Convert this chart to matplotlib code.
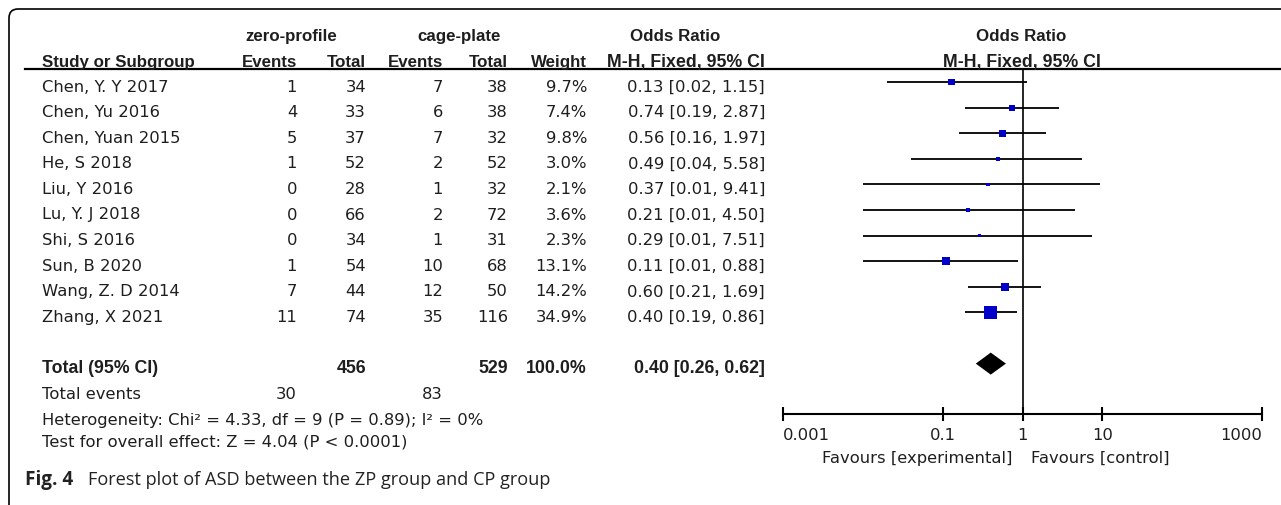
import matplotlib.pyplot as plt
import numpy as np
from matplotlib.patches import FancyBboxPatch

# dados do forest plot
estudos = ['Chen, Y. Y 2017', 'Chen, Yu 2016', 'Chen, Yuan 2015', 'He, S 2018', 'Liu, Y 2016',
           'Lu, Y. J 2018', 'Shi, S 2016', 'Sun, B 2020', 'Wang, Z. D 2014', 'Zhang, X 2021']
zp_eventos = [1, 4, 5, 1, 0, 0, 0, 1, 7, 11]
zp_total = [34, 33, 37, 52, 28, 66, 34, 54, 44, 74]
cp_eventos = [7, 6, 7, 2, 1, 2, 1, 10, 12, 35]
cp_total = [38, 38, 32, 52, 32, 72, 31, 68, 50, 116]
pesos = [9.7, 7.4, 9.8, 3.0, 2.1, 3.6, 2.3, 13.1, 14.2, 34.9]
odds = [0.13, 0.74, 0.56, 0.49, 0.37, 0.21, 0.29, 0.11, 0.60, 0.40]
ic_inf = [0.02, 0.19, 0.16, 0.04, 0.01, 0.01, 0.01, 0.01, 0.21, 0.19]
ic_sup = [1.15, 2.87, 1.97, 5.58, 9.41, 4.50, 7.51, 0.88, 1.69, 0.86]

total_zp, total_cp = 456, 529
eventos_zp, eventos_cp = 30, 83
or_total, inf_total, sup_total = 0.40, 0.26, 0.62

ticks = [0.001, 0.1, 1, 10, 1000]
tick_labels = ['0.001', '0.1', '1', '10', '1000']

W, H = 1281, 506
fig = plt.figure(figsize=(W / 100, H / 100), dpi=100)

# eixo da tabela em pixels
tab = fig.add_axes([0, 0, 1, 1])
tab.set_xlim(0, W)
tab.set_ylim(H, 0)
tab.axis('off')

Y0, DY = 83, 25.6   # linha 0 e espaçamento em pixels
OFF = 4             # deslocamento do texto em relação às marcas
cor = '#1e1e1e'
fonte = 'DejaVu Sans'
fonte_neg = 'Liberation Sans'
tam = 11.8


def y_linha(i):
    return Y0 + DY * i + OFF


def txt(x, y, s, ha='left', bold=False, size=None, **kw):
    if bold:
        tab.text(x, y, s, ha=ha, va='center', fontsize=size or 12.8, family=fonte_neg,
                 fontweight='bold', color=cor, **kw)
    else:
        tab.text(x, y, s, ha=ha, va='center', fontsize=size or tam, family=fonte,
                 color=cor, **kw)


# cabeçalho
hb = 12.2
txt(291, 36, 'zero-profile', ha='center', bold=True, size=hb)
txt(459, 36, 'cage-plate', ha='center', bold=True, size=hb)
txt(675, 36, 'Odds Ratio', ha='center', bold=True, size=hb)
txt(1021, 36, 'Odds Ratio', ha='center', bold=True, size=hb)
txt(42, 62, 'Study or Subgroup', bold=True, size=hb)
txt(297, 62, 'Events', ha='right', bold=True, size=hb)
txt(366, 62, 'Total', ha='right', bold=True, size=hb)
txt(443, 62, 'Events', ha='right', bold=True, size=hb)
txt(508, 62, 'Total', ha='right', bold=True, size=hb)
txt(587, 62, 'Weight', ha='right', bold=True, size=hb)
txt(765, 62, 'M-H, Fixed, 95% CI', ha='right', bold=True, size=12.8)
txt(1022, 62, 'M-H, Fixed, 95% CI', ha='center', bold=True, size=12.8)
tab.plot([25, W], [70, 70], color='black', lw=1.6)

for i, nome in enumerate(estudos):
    y = y_linha(i)
    txt(42, y, nome)
    txt(297, y, str(zp_eventos[i]), ha='right')
    txt(366, y, str(zp_total[i]), ha='right')
    txt(443, y, str(cp_eventos[i]), ha='right')
    txt(508, y, str(cp_total[i]), ha='right')
    txt(587, y, f'{pesos[i]:.1f}%', ha='right')
    txt(765, y, f'{odds[i]:.2f} [{ic_inf[i]:.2f}, {ic_sup[i]:.2f}]', ha='right')

y = y_linha(11)
txt(42, y, 'Total (95% CI)', bold=True)
txt(366, y, str(total_zp), ha='right', bold=True)
txt(508, y, str(total_cp), ha='right', bold=True)
txt(587, y, '100.0%', ha='right', bold=True)
txt(765, y, f'{or_total:.2f} [{inf_total:.2f}, {sup_total:.2f}]', ha='right', bold=True)

y = y_linha(12)
txt(42, y, 'Total events')
txt(297, y, str(eventos_zp), ha='right')
txt(443, y, str(eventos_cp), ha='right')
txt(42, 421, 'Heterogeneity: Chi² = 4.33, df = 9 (P = 0.89); I² = 0%')
txt(42, 442, 'Test for overall effect: Z = 4.04 (P < 0.0001)')

# moldura arredondada
tab.add_patch(FancyBboxPatch((9, 10), 1400, 600, boxstyle='round,pad=0,rounding_size=9',
                             fill=False, ec='black', lw=1.2))

# legenda da figura
tab.text(25, 480, 'Fig. 4', ha='left', va='center', fontsize=13.6, family='Open Sans',
         fontweight='bold', color='#222222')
tab.text(88, 480, 'Forest plot of ASD between the ZP group and CP group', ha='left', va='center',
         fontsize=13.1, family='Open Sans', color='#222222')

# eixo do forest plot
x0, x1 = 783, 1262
fp = fig.add_axes([x0 / W, 0, (x1 - x0) / W, 1])
fp.set_xscale('log')
fp.set_xlim(ticks[0], ticks[-1])
fp.set_ylim((H - Y0) / DY, -Y0 / DY)
fp.axis('off')
fp.patch.set_alpha(0)

linhas = np.arange(len(estudos))
fp.hlines(linhas, ic_inf, ic_sup, color='black', lw=1.3)
lados = 2.2 * np.sqrt(pesos) * 0.72
fp.scatter(odds, linhas, marker='s', s=lados ** 2, color='#0000c8', lw=0, zorder=3)

# losango do total
h = 0.43
fp.fill([inf_total, or_total, sup_total, or_total], [11, 11 - h, 11, 11 + h],
        color='black', lw=0)

y_eixo = (415 - Y0) / DY
y_topo = (70 - Y0) / DY
fp.plot([1, 1], [y_topo, y_eixo], color='black', lw=1.2, clip_on=False)
fp.plot([ticks[0], ticks[-1]], [y_eixo, y_eixo], color='black', lw=1.5, clip_on=False)
fp.vlines(ticks, y_eixo - 0.28, y_eixo + 0.28, color='black', lw=1.5, clip_on=False)

y_lab = y_eixo + 0.8
for t, lab in zip(ticks, tick_labels):
    ha = 'left' if t == ticks[0] else ('right' if t == ticks[-1] else 'center')
    fp.text(t, y_lab, lab, ha=ha, va='center', fontsize=tam, family=fonte, color=cor)
fp.text(0.75, y_eixo + 1.7, 'Favours [experimental]', ha='right', va='center',
        fontsize=tam, family=fonte, color=cor)
fp.text(1.26, y_eixo + 1.7, 'Favours [control]', ha='left', va='center',
        fontsize=tam, family=fonte, color=cor)

fig.savefig('out.png', dpi=100)
